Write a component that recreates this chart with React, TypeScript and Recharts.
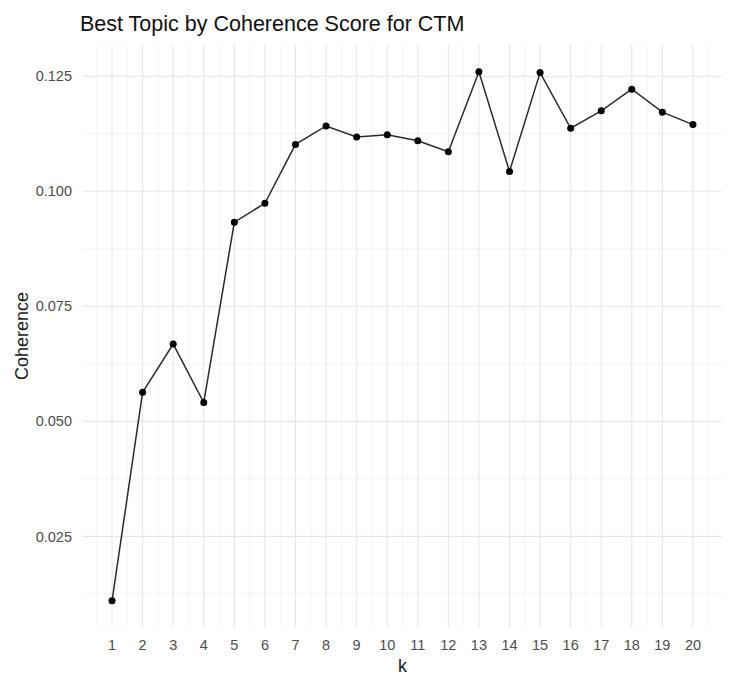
import { LineChart, Line, XAxis, YAxis, CartesianGrid } from 'recharts'

const kValues = [1, 2, 3, 4, 5, 6, 7, 8, 9, 10, 11, 12, 13, 14, 15, 16, 17, 18, 19, 20]
const coherenceValues = [
  0.011, 0.0563, 0.0668, 0.0541, 0.0933, 0.0974, 0.1102, 0.1142, 0.1118, 0.1123,
  0.111, 0.1086, 0.126, 0.1043, 0.1258, 0.1137, 0.1175, 0.1222, 0.1172, 0.1145,
]
const yTicks = [0.025, 0.05, 0.075, 0.1, 0.125]
const yMinor = [0.0125, 0.0375, 0.0625, 0.0875, 0.1125]
const xMinor = [
  0.5, 1.5, 2.5, 3.5, 4.5, 5.5, 6.5, 7.5, 8.5, 9.5, 10.5, 11.5, 12.5, 13.5, 14.5,
  15.5, 16.5, 17.5, 18.5, 19.5, 20.5,
]

const data = kValues.map((k, i) => ({ k, coherence: coherenceValues[i] }))

const font = '"Liberation Sans", Arial, sans-serif'

function YTitle(props: any) {
  const vb = props.viewBox || { x: 0, y: 45, width: 83, height: 582 }
  const x = vb.x + 28
  const y = vb.y + vb.height / 2
  return (
    <text
      x={x}
      y={y}
      transform={`rotate(-90, ${x}, ${y})`}
      textAnchor="middle"
      fill="#1a1a1a"
      fontSize={18}
      fontFamily={font}
    >
      Coherence
    </text>
  )
}

export default function App() {
  return (
    <div
      style={{
        position: 'absolute',
        left: 0,
        top: 0,
        width: 732,
        height: 683,
        background: '#fff',
        fontFamily: font,
      }}
    >
      <div
        style={{
          position: 'absolute',
          left: 80,
          top: 14,
          fontSize: 21.5,
          lineHeight: 1,
          color: '#111',
          whiteSpace: 'nowrap',
        }}
      >
        Best Topic by Coherence Score for CTM
      </div>
      <LineChart
        width={732}
        height={683}
        data={data}
        margin={{ top: 45, right: 10, bottom: 0, left: 0 }}
      >
        <CartesianGrid
          stroke="#ebebeb"
          strokeWidth={0.6}
          horizontalValues={yMinor}
          verticalValues={xMinor}
        />
        <CartesianGrid
          stroke="#e6e6e6"
          strokeWidth={1.1}
          horizontalValues={yTicks}
          verticalValues={kValues}
        />
        <XAxis
          dataKey="k"
          type="number"
          domain={[0.05, 20.95]}
          ticks={kValues}
          allowDataOverflow
          height={56}
          axisLine={false}
          tickLine={false}
          tickSize={6}
          tickMargin={7}
          tick={{ fill: '#4d4d4d', fontSize: 14.5, fontFamily: font }}
          label={{
            value: 'k',
            position: 'insideBottom',
            offset: 11,
            fill: '#1a1a1a',
            fontSize: 18,
            fontFamily: font,
          }}
        />
        <YAxis
          type="number"
          domain={[0.0053, 0.1318]}
          ticks={yTicks}
          allowDataOverflow
          width={83}
          axisLine={false}
          tickLine={false}
          tickSize={6}
          tickMargin={5}
          tickFormatter={(v: number) => v.toFixed(3)}
          tick={{ fill: '#4d4d4d', fontSize: 14.5, fontFamily: font }}
          label={<YTitle />}
        />
        <Line
          type="linear"
          dataKey="coherence"
          stroke="#2b2b2b"
          strokeWidth={1.5}
          dot={{ r: 3.5, fill: '#000', stroke: '#000', strokeWidth: 0 }}
          activeDot={false}
          isAnimationActive={false}
        />
      </LineChart>
    </div>
  )
}
